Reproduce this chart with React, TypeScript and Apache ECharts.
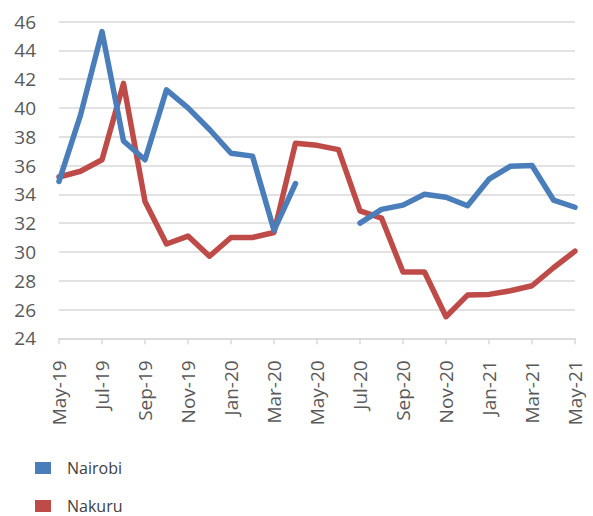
import React, { useEffect, useRef } from "react";
import * as echarts from "echarts";

const months = [
  "May-19", "Jun-19", "Jul-19", "Aug-19", "Sep-19", "Oct-19", "Nov-19", "Dec-19",
  "Jan-20", "Feb-20", "Mar-20", "Apr-20", "May-20", "Jun-20", "Jul-20", "Aug-20",
  "Sep-20", "Oct-20", "Nov-20", "Dec-20", "Jan-21", "Feb-21", "Mar-21", "Apr-21", "May-21",
];

const nairobi: (number | null)[] = [
  34.9, 39.5, 45.3, 37.7, 36.4, 41.25, 40.0, 38.5, 36.85, 36.65, 31.5, 34.75,
  null, null, 32.0, 32.95, 33.25, 34.0, 33.8, 33.2, 35.05, 35.95, 36.0, 33.6, 33.1,
];

const nakuru: number[] = [
  35.2, 35.6, 36.4, 41.7, 33.5, 30.55, 31.1, 29.7, 31.0, 31.0, 31.35, 37.55,
  37.4, 37.1, 32.85, 32.35, 28.6, 28.6, 25.5, 27.0, 27.05, 27.3, 27.65, 28.9, 30.05,
];

const yMin = 24;
const yMax = 46;
const yStep = 2;

export default function App() {
  const ref = useRef<HTMLDivElement>(null);

  useEffect(() => {
    document.body.style.margin = "0";
    if (!ref.current) return;
    const chart = echarts.init(ref.current, undefined, { renderer: "svg" });
    const font = "'Open Sans', 'Noto Sans', sans-serif";
    const legendBase = {
      orient: "vertical",
      left: 35,
      padding: 0,
      itemWidth: 16,
      itemHeight: 12,
      icon: "rect",
      textStyle: { fontFamily: font, fontSize: 16, color: "#404040", padding: [0, 0, 0, 11] },
    };
    chart.setOption({
      animation: false,
      backgroundColor: "#ffffff",
      grid: { left: 59, right: 18, top: 21.5, bottom: 177.7, containLabel: false },
      legend: [
        { ...legendBase, top: 460, data: ["Nairobi"] },
        { ...legendBase, top: 498, data: ["Nakuru"] },
      ],
      xAxis: {
        type: "category",
        data: months,
        boundaryGap: false,
        axisLine: { show: true, lineStyle: { color: "#D9D9D9", width: 1.5 } },
        axisTick: { show: true, interval: 1, length: 6, lineStyle: { color: "#D9D9D9", width: 1.5 } },
        axisLabel: {
          interval: 1,
          rotate: 90,
          margin: 22,
          fontFamily: font,
          fontSize: 19,
          color: "#595959",
        },
        splitLine: { show: false },
      },
      yAxis: {
        type: "value",
        min: yMin,
        max: yMax,
        interval: yStep,
        axisLine: { show: false },
        axisTick: { show: false },
        axisLabel: { margin: 23, fontFamily: font, fontSize: 19, color: "#595959" },
        splitLine: { show: true, lineStyle: { color: "#D9D9D9", width: 1.5 } },
      },
      series: [
        {
          name: "Nairobi",
          type: "line",
          data: nairobi,
          showSymbol: false,
          connectNulls: false,
          lineStyle: { color: "#4A7EBB", width: 5.5, join: "round", cap: "round" },
          itemStyle: { color: "#4A7EBB" },
          z: 3,
        },
        {
          name: "Nakuru",
          type: "line",
          data: nakuru,
          showSymbol: false,
          lineStyle: { color: "#BE4B48", width: 5.5, join: "round", cap: "round" },
          itemStyle: { color: "#BE4B48" },
          z: 2,
        },
      ],
    });
    return () => chart.dispose();
  }, []);

  return <div ref={ref} style={{ width: 593, height: 516 }} />;
}
